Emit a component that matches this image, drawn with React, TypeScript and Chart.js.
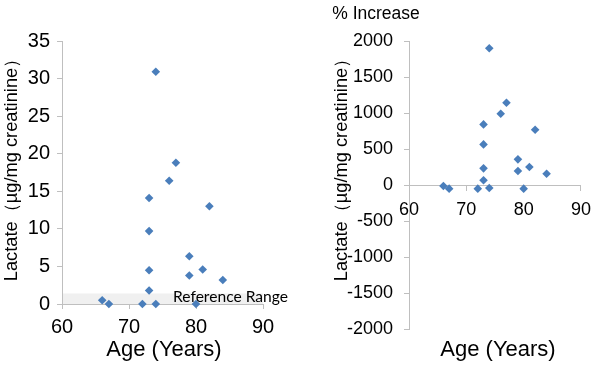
import React, { useEffect, useRef } from "react";
import { Chart, registerables } from "chart.js";

Chart.register(...registerables);

// ---- data ----
const ages = [74, 77, 76, 73, 82, 73, 79, 81, 73, 79, 84, 73, 66, 67, 72, 74, 80];
const lactate = [30.9, 18.8, 16.4, 14.1, 13.0, 9.7, 6.35, 4.6, 4.5, 3.8, 3.2, 1.8, 0.5, 0.0, 0.0, 0.0, 0.0];
const pctIncrease = [1900, 1142, 989, 842, 767, 564, 356, 250, 231, 194, 157, 65, -14, -51, -51, -42, -51];
const referenceRangeUpper = 1.4;
const referenceLabel = "Reference Range";
const yTitle = "Lactate（µg/mg creatinine）";
const xTitle = "Age (Years)";
const rightTopLabel = "% Increase";

const FONT = "'Liberation Sans', Arial, sans-serif";
const AXIS = "#bfbfbf";
const MARK = "#4a7ebb";

type TextItem = { text: string; x: number; y: number; size: number; rot?: boolean; align?: CanvasTextAlign; family?: string };

function textPlugin(items: TextItem[]) {
  return {
    id: "texts",
    afterDraw(chart: any) {
      const ctx = chart.ctx;
      for (const it of items) {
        ctx.save();
        ctx.fillStyle = "#000";
        ctx.font = `${it.size}px ${it.family || FONT}`;
        ctx.textAlign = it.align || "center";
        ctx.textBaseline = "middle";
        ctx.translate(it.x, it.y);
        if (it.rot) ctx.rotate(-Math.PI / 2);
        ctx.fillText(it.text, 0, 0);
        ctx.restore();
      }
    },
  };
}

const bandPlugin = {
  id: "band",
  beforeDatasetsDraw(chart: any) {
    const { ctx, chartArea, scales } = chart;
    const y0 = scales.y.getPixelForValue(0);
    const y1 = scales.y.getPixelForValue(referenceRangeUpper);
    ctx.save();
    ctx.fillStyle = "#f0f0f0";
    ctx.fillRect(chartArea.left + 1, y1, chartArea.right - chartArea.left - 1, y0 - y1);
    ctx.font = `15.6px Lato, 'Open Sans', sans-serif`;
    ctx.fillStyle = "#000";
    ctx.textAlign = "left";
    ctx.textBaseline = "middle";
    ctx.fillText(referenceLabel, chartArea.left + 111, y0 - 7.5);
    ctx.restore();
  },
};

function tickStyle(size: number, padding: number) {
  return {
    font: { family: FONT, size },
    color: "#000",
    padding,
    callback: (v: any) => String(v),
  };
}
const gridStyle = { display: true, drawOnChartArea: false, drawTicks: true, tickLength: 5, color: AXIS };
const borderStyle = { display: true, color: AXIS, width: 1 };

function LeftChart() {
  const ref = useRef<HTMLCanvasElement>(null);
  useEffect(() => {
    const chart = new Chart(ref.current!, {
      type: "scatter",
      data: {
        datasets: [
          {
            data: ages.map((a, i) => ({ x: a, y: lactate[i] })),
            pointStyle: "rectRot",
            pointRadius: 4.3,
            backgroundColor: MARK,
            borderColor: MARK,
            borderWidth: 0,
            clip: false,
          } as any,
        ],
      },
      options: {
        responsive: false,
        animation: false,
        layout: { padding: { top: 41, right: 37, bottom: 0, left: 0 } },
        plugins: { legend: { display: false }, tooltip: { enabled: false } },
        scales: {
          x: {
            type: "linear",
            min: 60,
            max: 90,
            ticks: { ...tickStyle(20, 6), stepSize: 10 },
            grid: gridStyle,
            border: borderStyle,
            afterFit: (s: any) => { s.height = 68; },
          },
          y: {
            type: "linear",
            min: 0,
            max: 35,
            ticks: { ...tickStyle(20, 7), stepSize: 5 },
            grid: gridStyle,
            border: borderStyle,
            afterFit: (s: any) => { s.width = 62; },
          },
        },
      } as any,
      plugins: [
        bandPlugin,
        textPlugin([
          { text: yTitle, x: 12, y: 165.5, size: 18.3, rot: true },
          { text: xTitle, x: 164, y: 350, size: 22 },
        ]),
      ],
    });
    return () => chart.destroy();
  }, []);
  return <canvas ref={ref} width={300} height={372} style={{ position: "absolute", left: 0, top: 0 }} />;
}

function RightChart() {
  const ref = useRef<HTMLCanvasElement>(null);
  useEffect(() => {
    const chart = new Chart(ref.current!, {
      type: "scatter",
      data: {
        datasets: [
          {
            data: ages.map((a, i) => ({ x: a, y: pctIncrease[i] })),
            pointStyle: "rectRot",
            pointRadius: 4.3,
            backgroundColor: MARK,
            borderColor: MARK,
            borderWidth: 0,
            clip: false,
          } as any,
        ],
      },
      options: {
        responsive: false,
        animation: false,
        layout: { padding: { top: 41, right: 17, bottom: 43, left: 0 } },
        plugins: { legend: { display: false }, tooltip: { enabled: false } },
        scales: {
          x: {
            type: "linear",
            position: { y: 0 },
            min: 60,
            max: 90,
            ticks: { ...tickStyle(18, 9), stepSize: 10 },
            grid: gridStyle,
            border: borderStyle,
          },
          y: {
            type: "linear",
            min: -2000,
            max: 2000,
            ticks: { ...tickStyle(18, 11), stepSize: 500 },
            grid: gridStyle,
            border: borderStyle,
            afterFit: (s: any) => { s.width = 109; },
          },
        },
      } as any,
      plugins: [
        textPlugin([
          { text: rightTopLabel, x: 76, y: 14, size: 17.5 },
          { text: yTitle, x: 42, y: 165.5, size: 18.3, rot: true },
          { text: xTitle, x: 198, y: 350, size: 22 },
        ]),
      ],
    });
    return () => chart.destroy();
  }, []);
  return <canvas ref={ref} width={300} height={372} style={{ position: "absolute", left: 300, top: 0 }} />;
}

export default function App() {
  return (
    <div style={{ position: "absolute", left: 0, top: 0, width: 600, height: 372, background: "#fff", overflow: "hidden" }}>
      <LeftChart />
      <RightChart />
    </div>
  );
}
